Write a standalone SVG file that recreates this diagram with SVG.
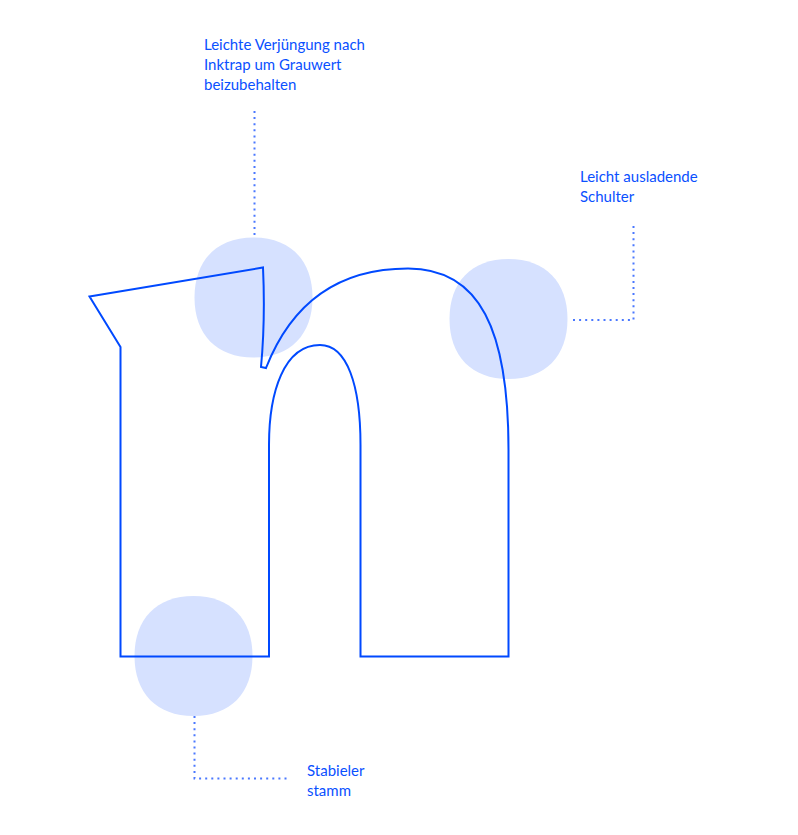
<svg xmlns="http://www.w3.org/2000/svg" width="798" height="835" viewBox="0 0 798 835">
<style>
.blob{fill:#d6e1ff}
.glyph{fill:none;stroke:#0049ff;stroke-width:2;stroke-linejoin:miter}
.lead{fill:none;stroke:#4a78ff;stroke-width:2;stroke-dasharray:2 4.1}
text{font-family:"Lato","Liberation Sans",sans-serif;font-size:15px;fill:#0a50ff}
</style>
<defs>
<path id="b" d="M0-60C37-60 59-37 59 0C59 37 37 60 0 60C-37 60-59 37-59 0C-59-37-37-60 0-60Z"/>
</defs>
<g id="blob-top"><use href="#b" class="blob" x="253.5" y="297.5"/></g>
<g id="blob-shoulder"><use href="#b" class="blob" x="508.5" y="319"/></g>
<g id="blob-stem"><use href="#b" class="blob" x="193.5" y="656"/></g>
<g id="glyph-n"><path class="glyph" d="M89.500 296.500L263 267.500C264.500 300 264 335 261 367L266 368C288 312 330 268.500 408 268.500C480 268.500 508.500 330 508.500 450V656.500H360.500V445C360.500 385 347 345 320 345C284 345 269 392 269 445V656.500H120.500V347Z"/></g>
<g id="connectors">
<path class="lead" d="M254.500 111V236"/>
<path class="lead" d="M633.500 226V320H570"/>
<path class="lead" d="M194.500 716V778.500H290"/>
</g>
<g id="label-top"><text x="204" y="50">Leichte Verjüngung nach</text><text x="204" y="70">Inktrap um Grauwert</text><text x="204" y="90">beizubehalten</text></g>
<g id="label-shoulder"><text x="580" y="182">Leicht ausladende</text><text x="580" y="202">Schulter</text></g>
<g id="label-stem"><text x="307" y="776">Stabieler</text><text x="307" y="796">stamm</text></g>
</svg>
